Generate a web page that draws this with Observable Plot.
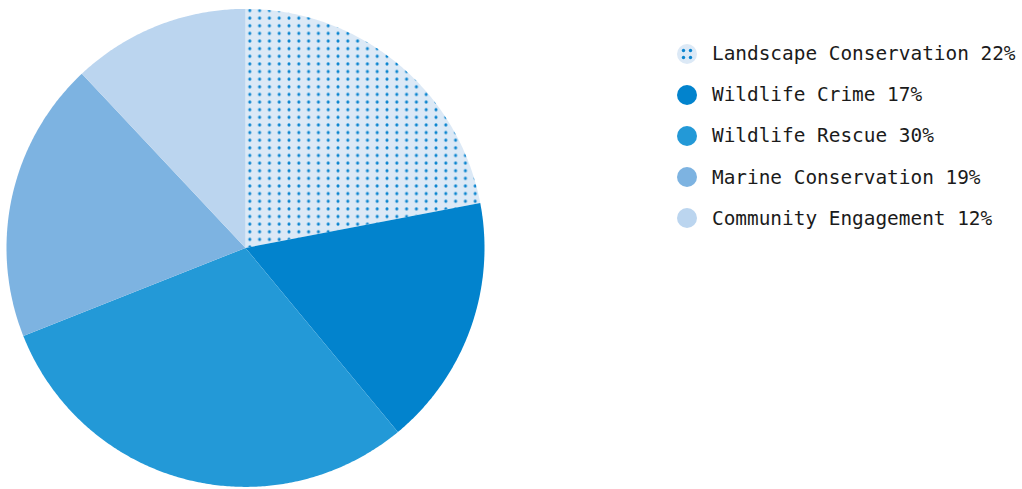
<!DOCTYPE html>
<html>
<head>
<meta charset="utf-8">
<script src="https://cdn.jsdelivr.net/npm/d3@7"></script>
<script src="https://cdn.jsdelivr.net/npm/@observablehq/plot@0.6"></script>
<style>
  html, body { margin: 0; padding: 0; background: #fff; }
  #wrap { position: relative; width: 1022px; height: 489px; overflow: hidden; }
  #chart svg { display: block; }
  #legend { position: absolute; left: 676px; top: 33px; font-family: "DejaVu Sans Mono", "Liberation Mono", monospace; font-size: 19.4px; color: #1b1b1b; }
  .row { display: flex; align-items: center; height: 41.2px; white-space: nowrap; }
  .row svg { margin-right: 14px; flex: none; }
</style>
</head>
<body>
<div id="wrap">
  <div id="chart"></div>
  <div id="legend"></div>
</div>
<script>
const categories = ["Landscape Conservation", "Wildlife Crime", "Wildlife Rescue", "Marine Conservation", "Community Engagement"];
const shares = [22, 17, 30, 19, 12];
const colors = ["url(#dots)", "#0283cd", "#2399d7", "#7db3e1", "#bbd5ef"];

const data = categories.map((name, i) => ({name, value: shares[i]}));
const arcs = d3.pie().sort(null).value(d => d.value)(data);

// Build each slice polygon (unit circle, screen y down) from the pie angles
const features = arcs.map(a => {
  const ring = [[0, 0]];
  const n = Math.max(2, Math.ceil((a.endAngle - a.startAngle) / (Math.PI / 360)));
  for (let k = 0; k <= n; k++) {
    const t = a.startAngle + (a.endAngle - a.startAngle) * k / n;
    ring.push([Math.sin(t), -Math.cos(t)]);
  }
  ring.push([0, 0]);
  return {type: "Feature", properties: {name: a.data.name}, geometry: {type: "Polygon", coordinates: [ring]}};
});

const R = 239;
const cx = 245, cy = 247.4;
const W = 1022, H = 489;

const chart = Plot.plot({
  width: W,
  height: H,
  marginLeft: cx - R,
  marginTop: cy - R,
  marginRight: W - (cx + R),
  marginBottom: H - (cy + R),
  projection: {type: "identity", domain: {type: "MultiPoint", coordinates: [[-1, -1], [1, 1]]}},
  color: {domain: categories, range: colors},
  marks: [
    Plot.geo(features, {fill: d => d.properties.name, stroke: "none"})
  ]
});

// Dot pattern for the Landscape Conservation slice
const defs = d3.select(chart).insert("defs", ":first-child");
const pw = 9.8, ph = 7.63;
const pat = defs.append("pattern").attr("id", "dots").attr("patternUnits", "userSpaceOnUse")
  .attr("x", 249.3 - pw / 2).attr("y", 10 - ph / 2).attr("width", pw).attr("height", ph);
pat.append("rect").attr("width", pw).attr("height", ph).attr("fill", "#dce9f6");
pat.append("circle").attr("cx", pw / 2).attr("cy", ph / 2).attr("r", 1.55).attr("fill", "#0a84cf");

document.getElementById("chart").appendChild(chart);

// Legend
const legend = d3.select("#legend");
data.forEach((d, i) => {
  const row = legend.append("div").attr("class", "row");
  const s = row.append("svg").attr("width", 22).attr("height", 22);
  if (i === 0) {
    s.append("circle").attr("cx", 11).attr("cy", 11).attr("r", 10).attr("fill", "#dce9f6");
    [[7.5, 7.5], [14.5, 7.5], [7.5, 14.5], [14.5, 14.5]].forEach(([x, y]) =>
      s.append("circle").attr("cx", x).attr("cy", y).attr("r", 1.7).attr("fill", "#0a84cf"));
  } else {
    s.append("circle").attr("cx", 11).attr("cy", 11).attr("r", 10).attr("fill", colors[i]);
  }
  row.append("span").text(`${d.name} ${d.value}%`);
});
</script>
</body>
</html>
